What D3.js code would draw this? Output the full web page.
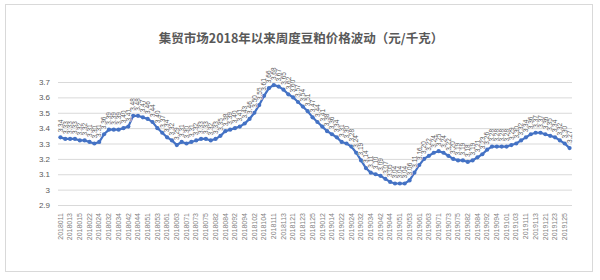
<!DOCTYPE html>
<html>
<head>
<meta charset="utf-8">
<script src="https://d3js.org/d3.v7.min.js"></script>
<style>
  body { margin: 0; background: #fff; }
  svg { display: block; }
</style>
</head>
<body>
<svg width="600" height="280"></svg>
<script>
// 周次标签: 年 + 月(两位) + 第几周
var weeks = [
  '2018011','2018012','2018013','2018014','2018015',
  '2018021','2018022','2018023','2018024',
  '2018031','2018032','2018033','2018034',
  '2018041','2018042','2018043','2018044','2018045',
  '2018051','2018052','2018053','2018054',
  '2018061','2018062','2018063','2018064',
  '2018071','2018072','2018073','2018074','2018075',
  '2018081','2018082','2018083','2018084',
  '2018091','2018092','2018093','2018094',
  '2018101','2018102','2018103','2018104','2018105',
  '2018111','2018112','2018113','2018114',
  '2018121','2018122','2018123','2018124','2018125',
  '2019011','2019012','2019013','2019014',
  '2019021','2019022','2019023','2019024',
  '2019031','2019032','2019033','2019034',
  '2019041','2019042','2019043','2019044','2019045',
  '2019051','2019052','2019053','2019054',
  '2019061','2019062','2019063','2019064',
  '2019071','2019072','2019073','2019074','2019075',
  '2019081','2019082','2019083','2019084',
  '2019091','2019092','2019093','2019094','2019095',
  '2019101','2019102','2019103','2019104',
  '2019111','2019112','2019113','2019114',
  '2019121','2019122','2019123','2019124','2019125',
  '2020011'
];

// 豆粕价格 (元/千克)
var prices = [
  3.34, 3.33, 3.33, 3.33, 3.32, 3.32, 3.31, 3.30, 3.31, 3.36,
  3.39, 3.39, 3.39, 3.40, 3.41, 3.48, 3.48, 3.47, 3.46, 3.44,
  3.40, 3.37, 3.34, 3.32, 3.29, 3.31, 3.30, 3.31, 3.32, 3.33,
  3.33, 3.32, 3.33, 3.35, 3.38, 3.39, 3.40, 3.41, 3.43, 3.46,
  3.50, 3.55, 3.61, 3.66, 3.68, 3.67, 3.65, 3.62, 3.60, 3.57,
  3.54, 3.51, 3.47, 3.44, 3.41, 3.38, 3.36, 3.34, 3.31, 3.30,
  3.28, 3.24, 3.19, 3.14, 3.11, 3.10, 3.09, 3.07, 3.05, 3.04,
  3.04, 3.04, 3.06, 3.11, 3.16, 3.20, 3.22, 3.24, 3.25, 3.24,
  3.22, 3.20, 3.19, 3.19, 3.18, 3.19, 3.21, 3.23, 3.26, 3.28,
  3.28, 3.28, 3.28, 3.29, 3.30, 3.32, 3.34, 3.36, 3.37, 3.37,
  3.36, 3.35, 3.34, 3.32, 3.30, 3.27
];

var yTicks = [2.9, 3, 3.1, 3.2, 3.3, 3.4, 3.5, 3.6, 3.7];

var title = '集贸市场2018年以来周度豆粕价格波动（元/千克）';

var data = weeks.map(function (w, i) { return { week: w, price: prices[i] }; });

var svg = d3.select('svg');
var L = 58, R = 28, T = 82, B = 75;
var W = +svg.attr('width'), H = +svg.attr('height');

// 外框
svg.append('rect')
  .attr('x', 5.5).attr('y', 4.5)
  .attr('width', 587).attr('height', 267)
  .attr('fill', '#fff')
  .attr('stroke', '#d9d9d9');

svg.append('text')
  .attr('x', 301).attr('y', 43)
  .attr('text-anchor', 'middle')
  .attr('font-family', '"Noto Sans CJK SC", sans-serif')
  .attr('font-size', 12.5)
  .attr('font-weight', 'bold')
  .attr('fill', '#595959')
  .text(title);

var x = d3.scaleBand()
  .domain(weeks)
  .range([L, W - R]);

var y = d3.scaleLinear()
  .domain([2.9, 3.7])
  .range([H - B, T]);

var cx = function (d) { return x(d.week) + x.bandwidth() / 2; };

// 网格线 + y 轴
var yAxis = d3.axisLeft(y)
  .tickValues(yTicks)
  .tickSize(-(W - R - L))
  .tickPadding(8)
  .tickFormat(function (d) { return d3.format('')(+d.toFixed(1)); });

svg.append('g')
  .attr('class', 'y-axis')
  .attr('transform', 'translate(' + L + ',0)')
  .call(yAxis)
  .call(function (g) {
    g.select('.domain').remove();
    g.selectAll('line').attr('stroke', '#d9d9d9');
    g.selectAll('text')
      .attr('fill', '#595959')
      .attr('font-family', '"Liberation Sans", Arial, sans-serif')
      .attr('font-size', 8);
  });

// x 轴, 隔一周一个标签
var xAxis = d3.axisBottom(x)
  .tickValues(weeks.filter(function (w, i) { return i % 2 === 0; }))
  .tickSize(0)
  .tickPadding(4);

svg.append('g')
  .attr('class', 'x-axis')
  .attr('transform', 'translate(0,' + (H - B) + ')')
  .call(xAxis)
  .call(function (g) {
    g.select('.domain').remove();
    g.selectAll('text')
      .attr('fill', '#7f7f7f')
      .attr('font-family', '"Liberation Sans", Arial, sans-serif')
      .attr('font-size', 7)
      .attr('text-anchor', 'end')
      .attr('dy', '0.32em')
      .attr('transform', 'translate(0,4) rotate(-90)')
      .attr('x', -4).attr('y', 0);
  });

var line = d3.line()
  .x(cx)
  .y(function (d) { return y(d.price); });

svg.append('path')
  .datum(data)
  .attr('fill', 'none')
  .attr('stroke', '#4472c4')
  .attr('stroke-width', 2.2)
  .attr('d', line);

svg.append('g').selectAll('circle')
  .data(data)
  .enter().append('circle')
  .attr('cx', cx)
  .attr('cy', function (d) { return y(d.price); })
  .attr('r', 2.1)
  .attr('fill', '#4472c4');

// 数据标签 (竖排)
svg.append('g').selectAll('text')
  .data(data)
  .enter().append('text')
  .attr('transform', function (d) {
    return 'translate(' + cx(d) + ',' + (y(d.price) - 5) + ') rotate(-90)';
  })
  .attr('dy', '0.35em')
  .attr('text-anchor', 'start')
  .attr('font-family', '"Liberation Sans", Arial, sans-serif')
  .attr('font-size', 6.5)
  .attr('fill', '#595959')
  .attr('stroke', '#fff')
  .attr('stroke-width', 0.6)
  .attr('paint-order', 'stroke')
  .text(function (d) { return d.price.toFixed(2); });
</script>
</body>
</html>
